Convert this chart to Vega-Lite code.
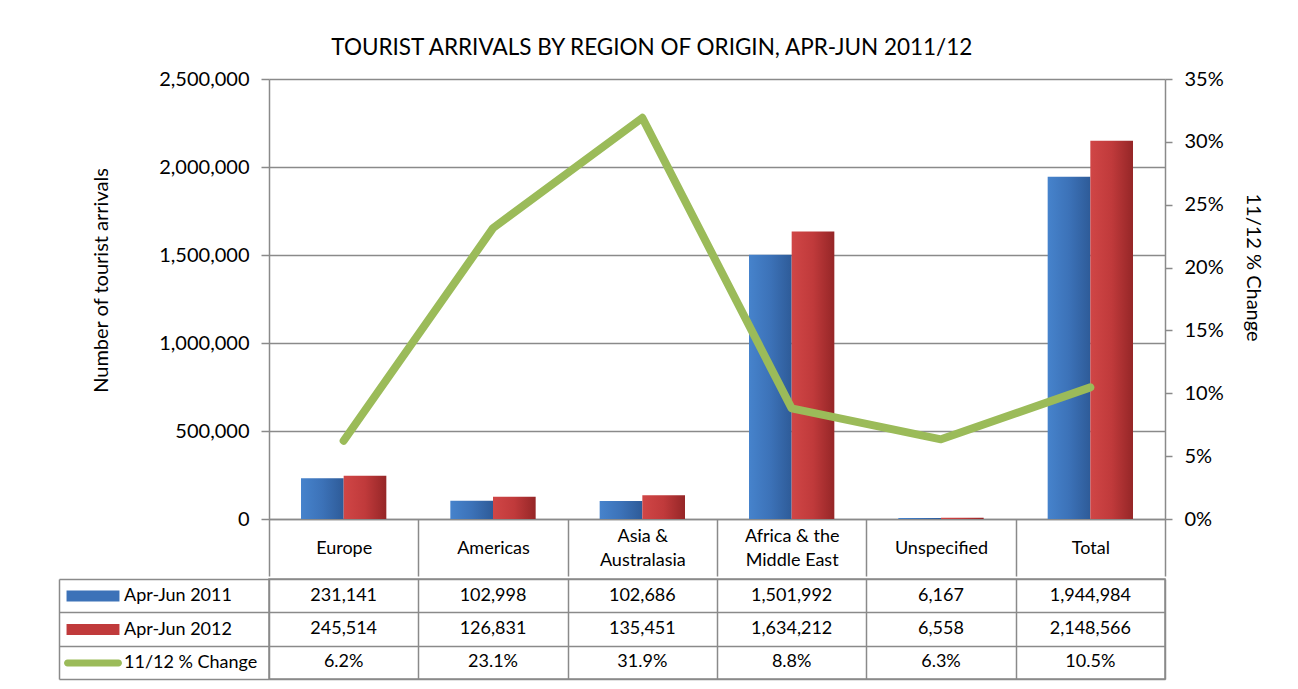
{
  "$schema": "https://vega.github.io/schema/vega-lite/v6.json",
  "padding": {"left": 57, "top": 36, "right": 5, "bottom": 5},
  "background": "white",
  "config": {
    "font": "Lato",
    "view": {"stroke": null},
    "axis": {"labelFont": "Lato", "titleFont": "Lato", "labelColor": "#000", "titleColor": "#000", "titleFontWeight": "normal"}
  },
  "title": {"text": "TOURIST ARRIVALS BY REGION OF ORIGIN, APR-JUN 2011/12", "fontSize": 22.5, "fontWeight": "normal", "color": "#000", "anchor": "middle", "offset": 10, "dx": -8, "font": "Lato"},
  "datasets": {
    "arrivals": [
      {"category": "Europe", "series": "Apr-Jun 2011", "value": 231141},
      {"category": "Americas", "series": "Apr-Jun 2011", "value": 102998},
      {"category": "Asia & Australasia", "series": "Apr-Jun 2011", "value": 102686},
      {"category": "Africa & the Middle East", "series": "Apr-Jun 2011", "value": 1501992},
      {"category": "Unspecified", "series": "Apr-Jun 2011", "value": 6167},
      {"category": "Total", "series": "Apr-Jun 2011", "value": 1944984},
      {"category": "Europe", "series": "Apr-Jun 2012", "value": 245514},
      {"category": "Americas", "series": "Apr-Jun 2012", "value": 126831},
      {"category": "Asia & Australasia", "series": "Apr-Jun 2012", "value": 135451},
      {"category": "Africa & the Middle East", "series": "Apr-Jun 2012", "value": 1634212},
      {"category": "Unspecified", "series": "Apr-Jun 2012", "value": 6558},
      {"category": "Total", "series": "Apr-Jun 2012", "value": 2148566},
      {"category": "Europe", "series": "11/12 % Change", "value": 0.0622},
      {"category": "Americas", "series": "11/12 % Change", "value": 0.2314},
      {"category": "Asia & Australasia", "series": "11/12 % Change", "value": 0.3191},
      {"category": "Africa & the Middle East", "series": "11/12 % Change", "value": 0.0880},
      {"category": "Unspecified", "series": "11/12 % Change", "value": 0.0634},
      {"category": "Total", "series": "11/12 % Change", "value": 0.1047}
    ]
  },
  "spacing": 0,
  "resolve": {"scale": {"color": "independent"}, "legend": {"color": "independent"}},
  "vconcat": [
    {
      "width": 896,
      "height": 440,
      "data": {"name": "arrivals"},
      "layer": [
        {
          "encoding": {
            "x": {
              "field": "category", "type": "nominal",
              "scale": {"type": "band", "domain": ["Europe", "Americas", "Asia & Australasia", "Africa & the Middle East", "Unspecified", "Total"], "paddingInner": 0, "paddingOuter": 0},
              "axis": {
                "title": null, "orient": "bottom", "labelAngle": 0, "labelFontSize": 18, "labelBaseline": "middle",
                "labelPadding": {"condition": {"test": "datum.value === 'Asia & Australasia' || datum.value === 'Africa & the Middle East'", "value": -40}, "value": -28},
                "labelLineHeight": 24,
                "labelExpr": "datum.label === 'Asia & Australasia' ? ['Asia &', 'Australasia'] : datum.label === 'Africa & the Middle East' ? ['Africa & the', 'Middle East'] : datum.label",
                "tickBand": "extent", "tickSize": 57, "tickColor": "#8a8a8a", "tickWidth": 1.5,
                "domainColor": "#8a8a8a", "domainWidth": 1.5, "grid": false
              }
            },
            "xOffset": {"field": "series", "type": "nominal", "scale": {"domain": ["Apr-Jun 2011", "Apr-Jun 2012"], "paddingOuter": 0.75, "paddingInner": 0}},
            "y": {
              "field": "value", "type": "quantitative",
              "scale": {"domain": [0, 2500000], "nice": false},
              "axis": {
                "values": [0, 500000, 1000000, 1500000, 2000000, 2500000], "format": ",.0f",
                "title": "Number of tourist arrivals", "titleFontSize": 20, "titlePadding": 47, "titleY": 201,
                "labelFontSize": 20, "labelPadding": 12,
                "grid": true, "gridColor": "#8a8a8a", "gridWidth": 1.5,
                "domainColor": "#8a8a8a", "domainWidth": 1.5, "tickColor": "#8a8a8a", "tickWidth": 1.5, "tickSize": 8
              }
            }
          },
          "layer": [
            {
              "transform": [{"filter": "datum.series === 'Apr-Jun 2011'"}],
              "mark": {"type": "bar", "fill": {"gradient": "linear", "x1": 0, "y1": 0, "x2": 1, "y2": 0, "stops": [{"offset": 0, "color": "#4683cc"}, {"offset": 0.5, "color": "#3c72b8"}, {"offset": 1, "color": "#2e5b98"}]}}
            },
            {
              "transform": [{"filter": "datum.series === 'Apr-Jun 2012'"}],
              "mark": {"type": "bar", "fill": {"gradient": "linear", "x1": 0, "y1": 0, "x2": 1, "y2": 0, "stops": [{"offset": 0, "color": "#d04646"}, {"offset": 0.5, "color": "#c03a3b"}, {"offset": 1, "color": "#952627"}]}}
            }
          ]
        },
        {
          "transform": [{"filter": "datum.series === '11/12 % Change'"}],
          "mark": {"type": "line", "color": "#9bbb59", "strokeWidth": 8, "strokeCap": "round", "strokeJoin": "round"},
          "encoding": {
            "x": {"field": "category", "type": "nominal", "scale": {"type": "band", "domain": ["Europe", "Americas", "Asia & Australasia", "Africa & the Middle East", "Unspecified", "Total"], "paddingInner": 0, "paddingOuter": 0}},
            "y": {
              "field": "value", "type": "quantitative",
              "scale": {"domain": [0, 0.35], "nice": false},
              "axis": {
                "orient": "right", "values": [0, 0.05, 0.1, 0.15, 0.2, 0.25, 0.3, 0.35], "format": ".0%",
                "title": "11/12 % Change", "titleFontSize": 20, "titlePadding": 19, "titleY": 188,
                "labelFontSize": 20, "labelPadding": 12, "grid": false,
                "domainColor": "#8a8a8a", "domainWidth": 1.5, "tickColor": "#8a8a8a", "tickWidth": 1.5, "tickSize": 7
              }
            }
          }
        }
      ],
      "resolve": {"scale": {"y": "independent"}}
    },
    {
      "width": 896,
      "height": 100,
      "view": {"stroke": "#8a8a8a", "strokeWidth": 1.5},
      "data": {"name": "arrivals"},
      "layer": [
        {
          "encoding": {
            "x": {
              "field": "category", "type": "nominal",
              "scale": {"type": "band", "domain": ["Europe", "Americas", "Asia & Australasia", "Africa & the Middle East", "Unspecified", "Total"], "paddingInner": 0, "paddingOuter": 0},
              "axis": {"title": null, "orient": "bottom", "labels": false, "ticks": false, "domain": false, "grid": true, "tickBand": "extent", "gridColor": "#8a8a8a", "gridWidth": 1.5}
            },
            "y": {
              "field": "series", "type": "nominal",
              "scale": {"type": "band", "domain": ["Apr-Jun 2011", "Apr-Jun 2012", "11/12 % Change"], "paddingInner": 0, "paddingOuter": 0},
              "axis": {"title": null, "labels": false, "ticks": true, "tickBand": "extent", "tickSize": 210, "tickColor": "#8a8a8a", "tickWidth": 1.5, "domain": false, "grid": true, "gridColor": "#8a8a8a", "gridWidth": 1.5}
            }
          },
          "layer": [
            {
              "transform": [{"filter": "datum.series !== '11/12 % Change'"}],
              "mark": {"type": "text", "fontSize": 18, "color": "#000", "font": "Lato"},
              "encoding": {"text": {"field": "value", "type": "quantitative", "format": ","}}
            },
            {
              "transform": [{"filter": "datum.series === '11/12 % Change'"}],
              "mark": {"type": "text", "fontSize": 18, "color": "#000", "font": "Lato"},
              "encoding": {"text": {"field": "value", "type": "quantitative", "format": ".1%"}}
            }
          ]
        },
        {
          "mark": {"type": "point", "filled": true, "opacity": 0},
          "encoding": {
            "x": {"field": "category", "type": "nominal", "scale": {"type": "band", "domain": ["Europe", "Americas", "Asia & Australasia", "Africa & the Middle East", "Unspecified", "Total"], "paddingInner": 0, "paddingOuter": 0}},
            "y": {
              "field": "series", "type": "nominal",
              "scale": {"domain": ["Apr-Jun 2011", "Apr-Jun 2012", "11/12 % Change"]},
              "axis": {"orient": "left", "offset": 210, "title": null, "labels": false, "ticks": false, "grid": false, "domain": true, "domainColor": "#8a8a8a", "domainWidth": 1.5}
            },
            "color": {
              "field": "series", "type": "nominal",
              "scale": {"domain": ["Apr-Jun 2011", "Apr-Jun 2012", "11/12 % Change"], "range": ["#3c72b8", "#c03a3b", "#9bbb59"]},
              "legend": {
                "orient": "none", "legendX": -185, "legendY": 8, "title": null, "direction": "vertical",
                "symbolSize": 324, "symbolOpacity": 1, "symbolStrokeWidth": 0,
                "labelFontSize": 18, "labelFont": "Lato", "labelColor": "#000", "labelOffset": 22, "rowPadding": 15.5, "padding": 0,
                "encode": {
                  "symbols": {
                    "update": {
                      "shape": {"signal": "datum.value === '11/12 % Change' ? 'M-2.83,-0.39H2.83A0.39,0.39 0 0 1 2.83,0.39H-2.83A0.39,0.39 0 0 1 -2.83,-0.39Z' : 'M-2.94,-0.61H2.94V0.61H-2.94Z'"},
                      "opacity": {"value": 1}
                    }
                  }
                }
              }
            }
          }
        }
      ],
      "resolve": {"scale": {"y": "independent"}, "axis": {"y": "independent"}}
    }
  ]
}
